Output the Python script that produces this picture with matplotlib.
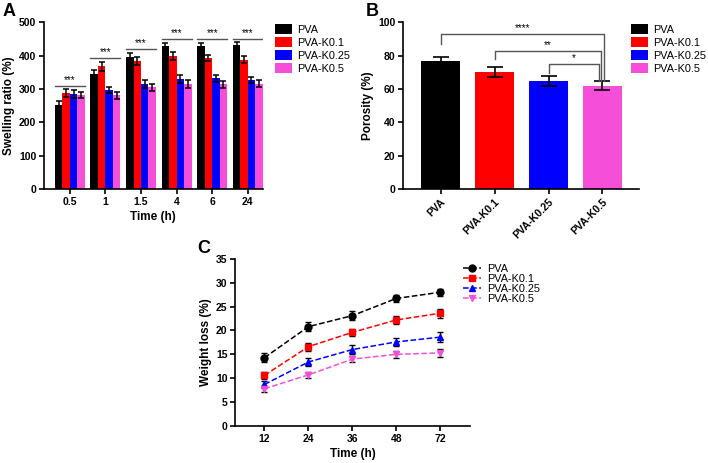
import numpy as np
import matplotlib.pyplot as plt

plt.rcParams['font.family'] = ['Liberation Sans', 'DejaVu Sans']

# datos panel A (swelling ratio)
groups = ['PVA', 'PVA-K0.1', 'PVA-K0.25', 'PVA-K0.5']
colors = ['#000000', '#ff0000', '#0000ff', '#f54fd9']
times_a = ['0.5', '1', '1.5', '4', '6', '24']
swell = [[253, 345, 397, 428, 430, 432],
         [287, 368, 383, 400, 393, 388],
         [285, 298, 316, 330, 332, 328],
         [282, 281, 305, 314, 314, 316]]
swell_err = [[12, 12, 10, 10, 8, 9],
             [12, 13, 12, 12, 10, 10],
             [12, 9, 12, 12, 10, 9],
             [10, 10, 10, 12, 10, 10]]
sig_a = [308, 394, 420, 449, 449, 449]

# datos panel B (porosity)
poro = [77, 70, 65, 62]
poro_err = [2.3, 3.0, 3.0, 2.5]

# datos panel C (weight loss)
times_c = ['12', '24', '36', '48', '72']
wloss = [[14.3, 20.8, 23.1, 26.7, 28.0],
         [10.6, 16.6, 19.6, 22.2, 23.6],
         [8.7, 13.4, 16.0, 17.6, 18.6],
         [7.8, 10.7, 14.0, 15.0, 15.3]]
wloss_err = [[0.9, 0.9, 0.9, 0.8, 0.7],
             [0.8, 0.8, 0.8, 0.8, 0.9],
             [0.8, 0.9, 0.9, 0.9, 1.0],
             [0.6, 0.7, 0.7, 0.8, 0.9]]
markers = ['o', 's', '^', 'v']

fig = plt.figure(figsize=(7.08, 4.63), dpi=100)
axA = fig.add_axes([0.062, 0.592, 0.309, 0.36])
axB = fig.add_axes([0.569, 0.592, 0.333, 0.36])
axC = fig.add_axes([0.332, 0.080, 0.332, 0.361])


def estilo(ax):
    for s in ['top', 'right']:
        ax.spines[s].set_visible(False)
    for s in ['left', 'bottom']:
        ax.spines[s].set_linewidth(1.2)
    ax.tick_params(width=1.2, length=3.5, labelsize=7.5, pad=2)
    for t in ax.get_xticklabels() + ax.get_yticklabels():
        t.set_fontweight('bold')


#---------------- panel A
x = np.arange(len(times_a))
w = 0.21
for i in range(4):
    axA.bar(x + (i - 1.5) * w, swell[i], w, color=colors[i], label=groups[i],
            yerr=swell_err[i], error_kw=dict(ecolor='black', elinewidth=1.1, capsize=2, capthick=1.1))
for j in range(len(times_a)):
    axA.plot([x[j] - 2 * w, x[j] + 2 * w], [sig_a[j], sig_a[j]], color='#555555', lw=1)
    axA.text(x[j], sig_a[j] + 2, '***', ha='center', va='bottom', fontsize=7)
axA.set_xticks(x)
axA.set_xticklabels(times_a)
axA.set_xlim(-0.73, 5.42)
axA.set_ylim(0, 500)
axA.set_yticks(np.arange(0, 501, 100))
axA.set_xlabel('Time (h)', fontsize=8.5, fontweight='bold', labelpad=3)
axA.set_ylabel('Swelling ratio (%)', fontsize=8.5, fontweight='bold', labelpad=3)
estilo(axA)
axA.legend(loc='upper left', bbox_to_anchor=(1.01, 1.05), frameon=False, fontsize=7.8,
           handlelength=1.6, handleheight=1.1, handletextpad=0.5, labelspacing=0.2)

#---------------- panel B
xb = np.arange(4)
axB.bar(xb, poro, 0.71, color=colors, label=groups, yerr=poro_err,
        error_kw=dict(ecolor='black', elinewidth=1.2, capsize=6, capthick=1.2))
brackets = [(0, 93, 87, '****', 0.03), (1, 83, 78, '**', -0.02), (2, 75, 69.5, '*', -0.07)]
for (i0, yb, yl, lab, dx) in brackets:
    xr = 3 + dx
    axB.plot([i0, i0, xr, xr], [yl, yb, yb, 64.5], color='#555555', lw=1)
    axB.text((i0 + xr) / 2, yb + 0.5, lab, ha='center', va='bottom', fontsize=7)
axB.set_xticks(xb)
axB.set_xticklabels(groups, rotation=45, ha='right', rotation_mode='anchor')
axB.set_xlim(-0.7, 3.67)
axB.set_ylim(0, 100)
axB.set_yticks(np.arange(0, 101, 20))
axB.set_ylabel('Porosity (%)', fontsize=8.5, fontweight='bold', labelpad=3)
estilo(axB)
axB.legend(loc='upper left', bbox_to_anchor=(0.925, 1.05), frameon=False, fontsize=7.8,
           handlelength=1.6, handleheight=1.1, handletextpad=0.45, labelspacing=0.2)

#---------------- panel C
xc = np.arange(len(times_c))
for i in range(4):
    axC.errorbar(xc, wloss[i], yerr=wloss_err[i], color=colors[i], ls='--', lw=1.1,
                 marker=markers[i], ms=5, ecolor='black', elinewidth=1, capsize=2.5,
                 capthick=1, label=groups[i])
axC.set_xticks(xc)
axC.set_xticklabels(times_c)
axC.set_xlim(-0.67, 4.68)
axC.set_ylim(0, 35)
axC.set_yticks(np.arange(0, 36, 5))
axC.set_xlabel('Time (h)', fontsize=8.5, fontweight='bold', labelpad=3)
axC.set_ylabel('Weight loss (%)', fontsize=8.5, fontweight='bold', labelpad=3)
estilo(axC)
hs, ls = axC.get_legend_handles_labels()
axC.legend([h[0] for h in hs], ls, loc='upper left', bbox_to_anchor=(0.93, 1.03), frameon=False,
           fontsize=7.8, handlelength=1.6, handletextpad=0.6, labelspacing=0.0)

# letras de los paneles
fig.text(0.004, 0.976, 'A', fontsize=13, fontweight='bold', va='center')
fig.text(0.517, 0.976, 'B', fontsize=13, fontweight='bold', va='center')
fig.text(0.278, 0.463, 'C', fontsize=13, fontweight='bold', va='center')

fig.savefig('out.png', dpi=100)
